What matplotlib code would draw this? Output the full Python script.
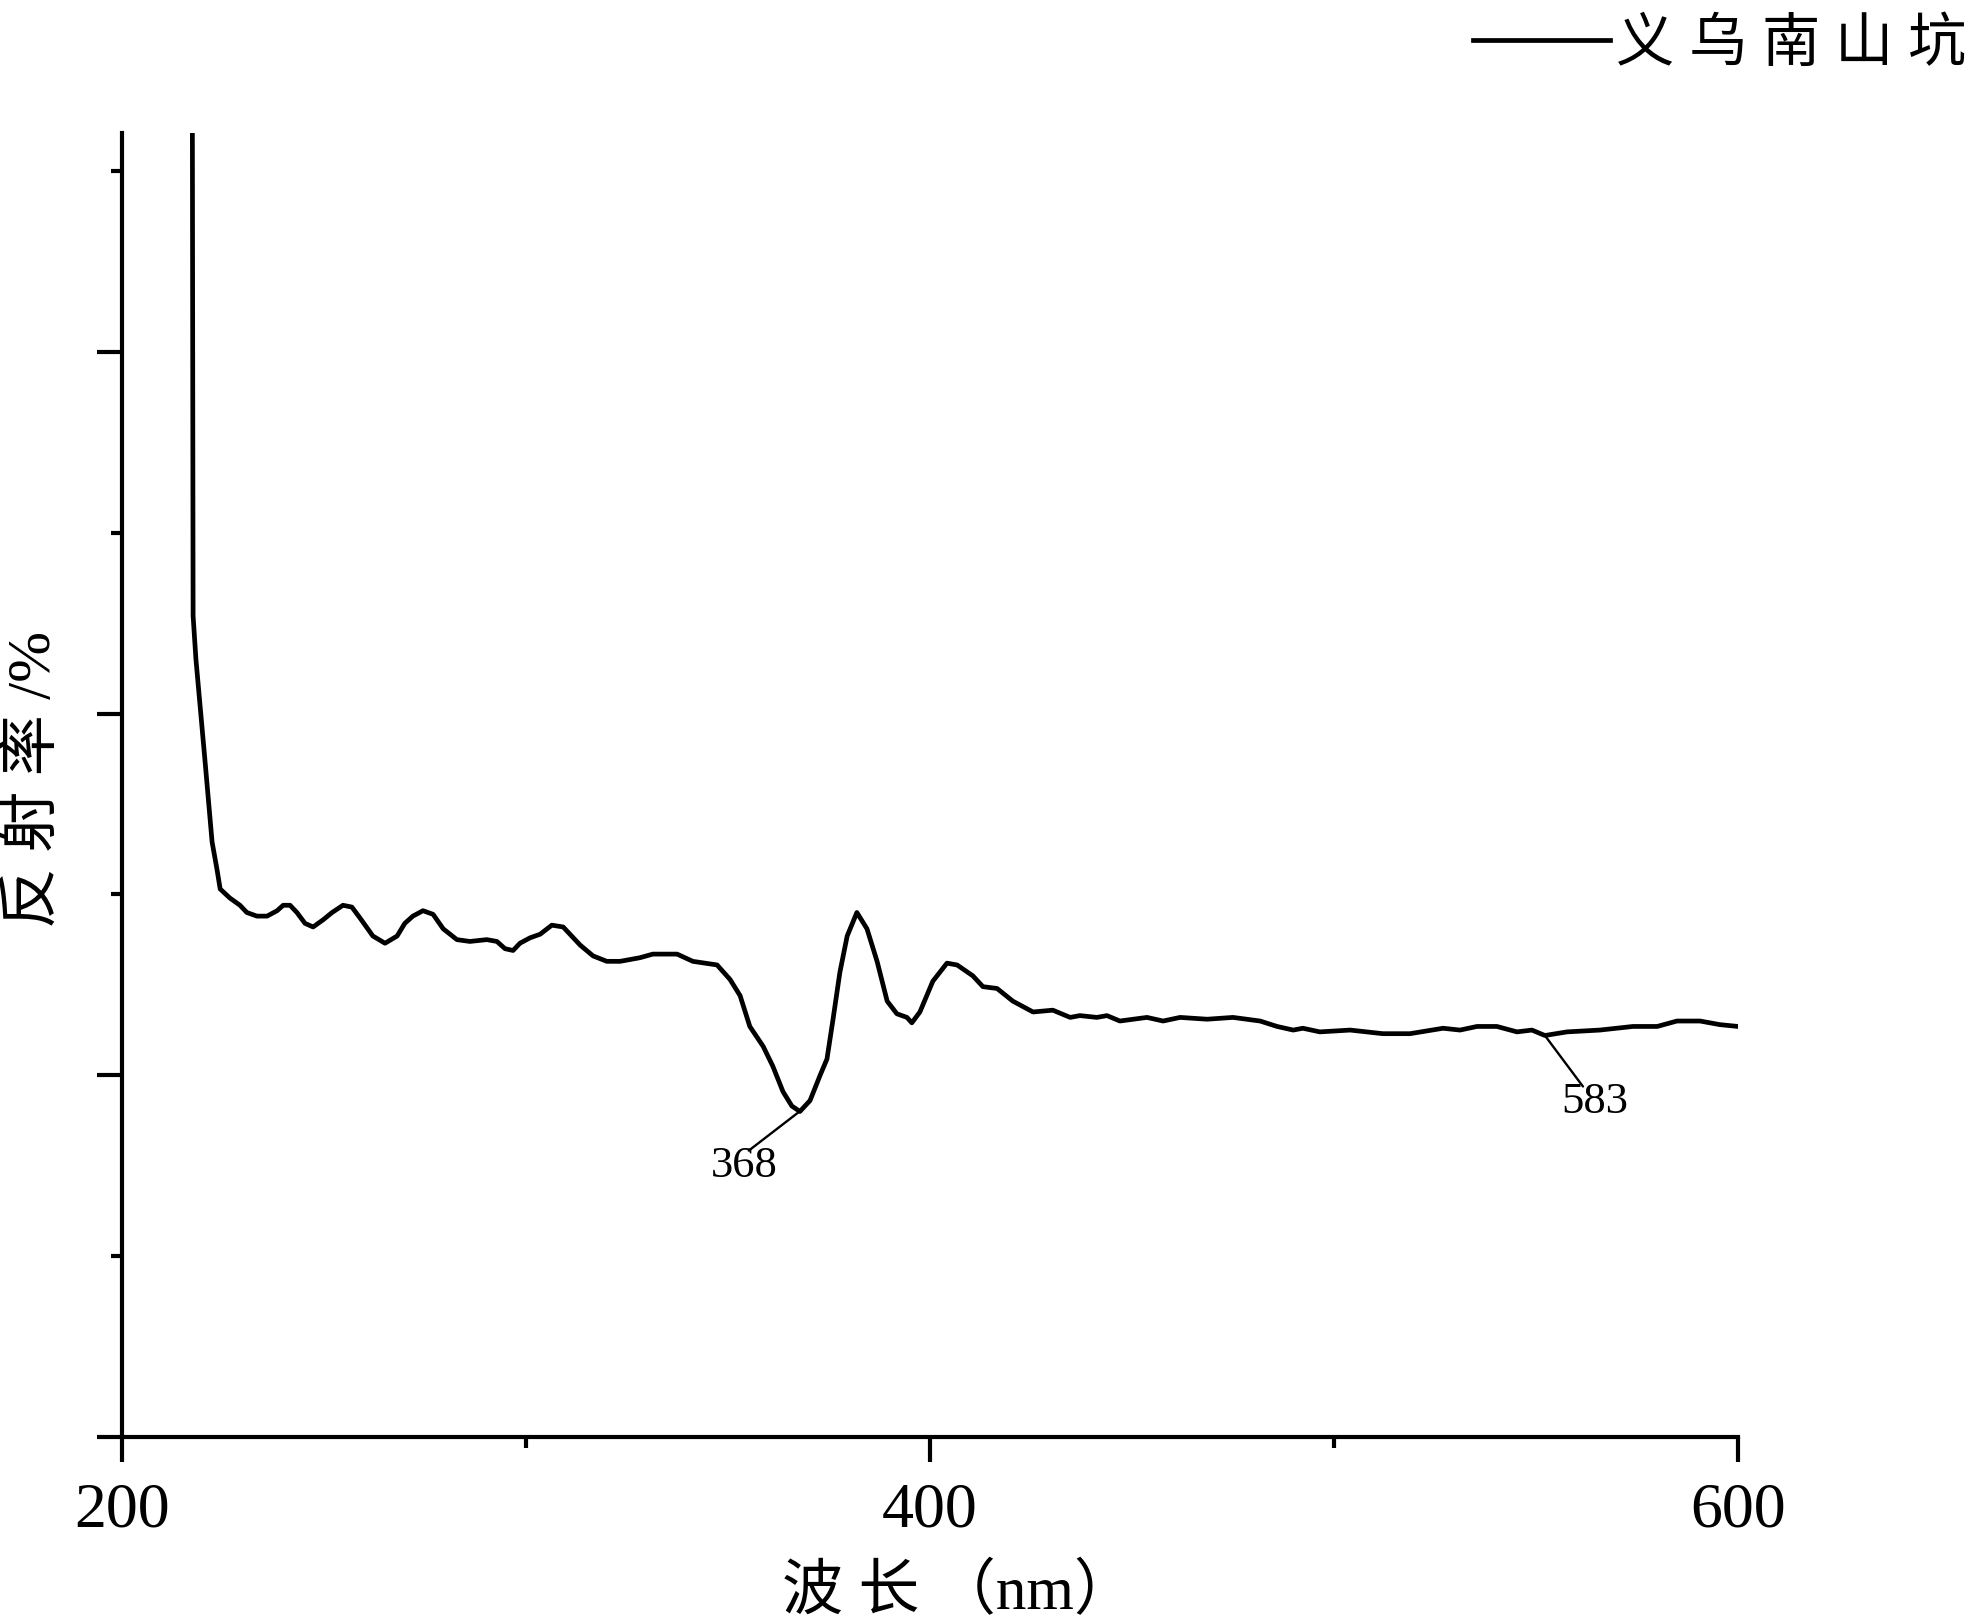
"""
反射光谱 - 义乌南山坑
"""
import numpy as np
import matplotlib
matplotlib.use("Agg")
import matplotlib.pyplot as plt
from matplotlib.ticker import MultipleLocator

# wavelength (nm) and reflectance
wavelength = [217.3, 217.6, 218.3, 220.5, 222.3, 223.5, 224.3, 226.7, 229.2, 230.9,
              233.4, 235.9, 238.4, 239.9, 241.6, 243.3, 245.3, 247.3, 249.8, 252.0,
              254.7, 256.9, 258.9, 262.1, 265.1, 268.1, 270.0, 272.0, 274.5, 277.0,
              279.5, 282.9, 286.1, 290.3, 292.8, 294.8, 296.8, 298.5, 301.0, 303.5,
              306.4, 309.2, 313.4, 316.6, 320.0, 323.3, 328.2, 331.4, 337.4, 341.3,
              347.3, 350.5, 353.0, 355.4, 358.7, 361.1, 363.6, 365.8, 367.8, 370.3,
              372.8, 374.5, 376.0, 377.7, 379.5, 381.9, 384.4, 386.9, 389.4, 391.8,
              394.3, 395.5, 397.5, 400.7, 404.2, 406.7, 410.6, 413.1, 416.6, 420.5,
              425.5, 430.4, 434.7, 437.1, 441.3, 443.8, 447.0, 453.7, 457.7, 461.9,
              468.6, 475.0, 481.7, 485.9, 489.9, 492.3, 496.5, 504.0, 512.1, 518.8,
              527.0, 531.2, 535.4, 540.3, 545.3, 549.0, 552.2, 557.7, 565.8, 574.0,
              580.0, 584.9, 590.6, 595.5, 600.0]
reflect = [9.00, 4.54, 4.30, 3.75, 3.29, 3.14, 3.03, 2.98, 2.94, 2.90,
           2.88, 2.88, 2.91, 2.94, 2.94, 2.90, 2.84, 2.82, 2.86, 2.90,
           2.94, 2.93, 2.87, 2.77, 2.73, 2.77, 2.84, 2.88, 2.91, 2.89,
           2.81, 2.75, 2.74, 2.75, 2.74, 2.70, 2.69, 2.73, 2.76, 2.78,
           2.83, 2.82, 2.72, 2.66, 2.63, 2.63, 2.65, 2.67, 2.67, 2.63,
           2.61, 2.53, 2.44, 2.27, 2.16, 2.05, 1.91, 1.83, 1.80, 1.86,
           2.00, 2.09, 2.31, 2.57, 2.77, 2.90, 2.81, 2.63, 2.41, 2.34,
           2.32, 2.29, 2.35, 2.52, 2.62, 2.61, 2.55, 2.49, 2.48, 2.41,
           2.35, 2.36, 2.32, 2.33, 2.32, 2.33, 2.30, 2.32, 2.30, 2.32,
           2.31, 2.32, 2.30, 2.27, 2.25, 2.26, 2.24, 2.25, 2.23, 2.23,
           2.26, 2.25, 2.27, 2.27, 2.24, 2.25, 2.22, 2.24, 2.25, 2.27,
           2.27, 2.30, 2.30, 2.28, 2.27]

# marked minima: where the line points, and the number written there
mark_nm = [368, 552.2]
mark_text = ["368", "583"]

series_name = "义 乌 南 山 坑"

plt.rcParams['font.family'] = ['Liberation Serif', 'Noto Sans CJK SC']

fig = plt.figure(figsize=(19.69, 16.24), dpi=100)
ax = fig.add_axes([0.06196, 0.11453, 0.82072, 0.80296])

ax.plot(wavelength, reflect, color='black', lw=3.4, solid_joinstyle='round',
        label=series_name)

ax.set_xlim(200, 600)
ax.set_ylim(0, 7.21)

# lines + numbers at the minima (offsets in points)
line_off = [(-37.4, -28.8), (27.4, -36.7)]
text_off = [(-41, -39), (36, -47)]
for nm, txt, lo, to in zip(mark_nm, mark_text, line_off, text_off):
    yv = np.interp(nm, wavelength, reflect)
    ax.annotate("", xy=(nm, yv), xytext=lo, textcoords='offset points',
                arrowprops=dict(arrowstyle='-', lw=1.7, color='black',
                                shrinkA=0, shrinkB=0))
    ax.annotate(txt, xy=(nm, yv), xytext=to, textcoords='offset points',
                ha='center', va='center', fontsize=32)

ax.spines['top'].set_visible(False)
ax.spines['right'].set_visible(False)
ax.spines['left'].set_linewidth(3)
ax.spines['bottom'].set_linewidth(3)

ax.xaxis.set_major_locator(MultipleLocator(200))
ax.xaxis.set_minor_locator(MultipleLocator(100))
ax.yaxis.set_major_locator(MultipleLocator(2))
ax.yaxis.set_minor_locator(MultipleLocator(1))
ax.tick_params(which='major', direction='out', length=18, width=3)
ax.tick_params(which='minor', direction='out', length=8, width=3)
ax.tick_params(axis='x', labelsize=46, pad=14)
ax.tick_params(axis='y', labelleft=False)

ax.set_xlabel("波 长 （nm）", fontsize=44)
ax.xaxis.set_label_coords(0.5175, -0.119)
ax.xaxis.label.set_va('center')
ax.set_ylabel("反 射 率 /%", fontsize=44)
ax.yaxis.set_label_coords(-0.0538, 0.505)
ax.yaxis.label.set_va('center')

ax.legend(loc='center left', bbox_to_anchor=(1473 / 1969, 1 - 46 / 1624),
          bbox_transform=fig.transFigure, frameon=False, fontsize=42,
          handlelength=2.35, handletextpad=0.1, borderpad=0, borderaxespad=0)

fig.savefig("out.png", dpi=100)
